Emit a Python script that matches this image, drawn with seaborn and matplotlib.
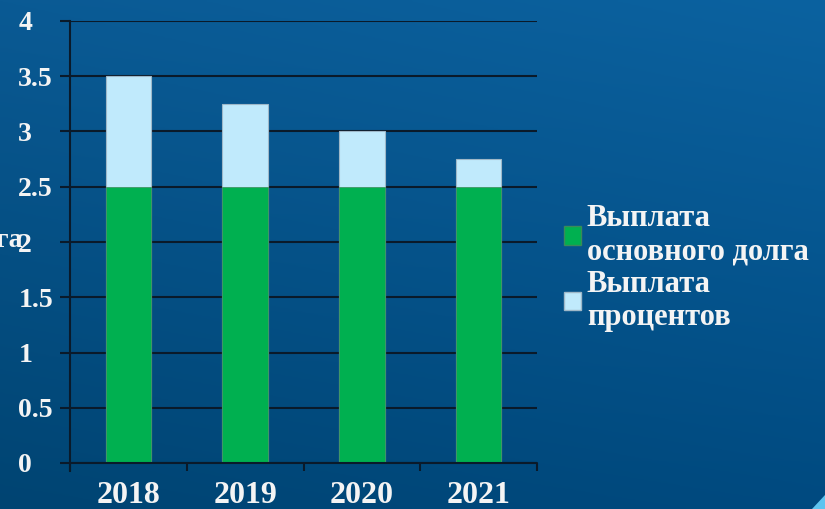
import numpy as np
import pandas as pd
import matplotlib
matplotlib.use("Agg")
import matplotlib.pyplot as plt
import seaborn as sns
from matplotlib.patches import Patch, Polygon
from matplotlib.colors import to_rgb

years = ["2018", "2019", "2020", "2021"]
principal = [2.5, 2.5, 2.5, 2.5]
interest = [1.0, 0.75, 0.5, 0.25]
series_labels = ["Выплата\nосновного долга", "Выплата\nпроцентов"]
yticks = [0, 0.5, 1, 1.5, 2, 2.5, 3, 3.5, 4]
ytick_labels = ["0", "0.5", "1", "1.5", "2", "2.5", "3", "3.5", "4"]

df = pd.DataFrame({"year": years, "principal": principal, "interest": interest})
df["total"] = df["principal"] + df["interest"]

sns.set_theme(style="white")
plt.rcParams["font.family"] = ["Liberation Serif", "DejaVu Serif"]
plt.rcParams["font.weight"] = "bold"

W, H = 825, 509
fig = plt.figure(figsize=(W / 100, H / 100), dpi=100)

# background gradient
bg = fig.add_axes([0, 0, 1, 1], zorder=-10)
c_tl = np.array(to_rgb("#0a5a94"))
c_tr = np.array(to_rgb("#0b62a0"))
c_bl = np.array(to_rgb("#004472"))
c_br = np.array(to_rgb("#004a80"))
u = np.linspace(0, 1, 200)[None, :, None]
v = np.linspace(0, 1, 200)[:, None, None]
img = (1 - v) * ((1 - u) * c_tl + u * c_tr) + v * ((1 - u) * c_bl + u * c_br)
bg.imshow(img, aspect="auto", extent=[0, 1, 0, 1])
bg.set_xlim(0, 1); bg.set_ylim(0, 1)
bg.axis("off")

ax = fig.add_axes([70 / W, 46 / H, 467 / W, 442 / H])
ax.patch.set_alpha(0)

green = "#00b050"
light = "#c0eafc"
sns.barplot(data=df, x="year", y="total", color=light, width=0.39,
            edgecolor="#9fb8c8", linewidth=0.8, saturation=1, ax=ax, zorder=3)
sns.barplot(data=df, x="year", y="principal", color=green, width=0.39,
            edgecolor="#3a8a5a", linewidth=0.5, saturation=1, ax=ax, zorder=4)

ax.set_xlim(-0.5, 3.5)
ax.set_ylim(0, 4)
ax.set_xlabel("")
ax.set_ylabel("")
for s in ["top", "right", "bottom"]:
    ax.spines[s].set_visible(False)
ax.spines["left"].set_color("#0a1a2a")
ax.spines["left"].set_linewidth(1.5)
ax.spines["left"].set_bounds(-0.07, 4)
ax.spines["left"].set_zorder(2)

ax.set_yticks(yticks)
ax.set_yticklabels(ytick_labels)
ax.yaxis.grid(True, color="#0a1a2a", linewidth=1.5, zorder=1)
ax.set_axisbelow(True)
ax.tick_params(axis="y", left=True, length=7.2, width=1.5, color="#0a1a2a",
               pad=30, labelsize=20, labelcolor="#f4f4f4")
for lab in ax.get_yticklabels():
    lab.set_horizontalalignment("left")
    lab.set_fontweight("bold")

ax.set_xticks(range(len(years)))
ax.set_xticklabels(years)
ax.set_xticks([-0.5, 0.5, 1.5, 2.5, 3.5], minor=True)
ax.tick_params(axis="x", which="major", bottom=False, length=0, pad=13,
               labelsize=23, labelcolor="#f4f4f4")
ax.tick_params(axis="x", which="minor", bottom=True, length=5.5, width=1.5,
               color="#0a1a2a", direction="out")
for lab in ax.get_xticklabels():
    lab.set_fontweight("bold")

ax.axhline(0, color="#0a1a2a", linewidth=1.5, zorder=5, clip_on=False)

# cut-off text on the far left
fig.text(23 / W, 1 - 241 / H, "долга", ha="right", va="center", fontsize=20,
         fontweight="bold", color="#f4f4f4")

handles = [Patch(facecolor=green, edgecolor="#3a8a5a"),
           Patch(facecolor=light, edgecolor="#9fb8c8")]
leg = fig.legend(handles, series_labels, loc="center left",
                 bbox_to_anchor=(564 / W, 1 - 268 / H), frameon=False,
                 fontsize=22, handlelength=0.55, handleheight=0.55,
                 handletextpad=0.2, borderpad=0, borderaxespad=0,
                 labelspacing=0.1)
for t in leg.get_texts():
    t.set_color("#f4f4f4")
    t.set_fontweight("bold")
    t.set_linespacing(1.2)

# decorative corner triangle
fig.patches.append(Polygon([[812 / W, 0], [825 / W, 0], [825 / W, 14 / H]],
                           closed=True, transform=fig.transFigure,
                           facecolor="#5ec4f0", edgecolor="none"))

fig.savefig("out.png", dpi=100)
